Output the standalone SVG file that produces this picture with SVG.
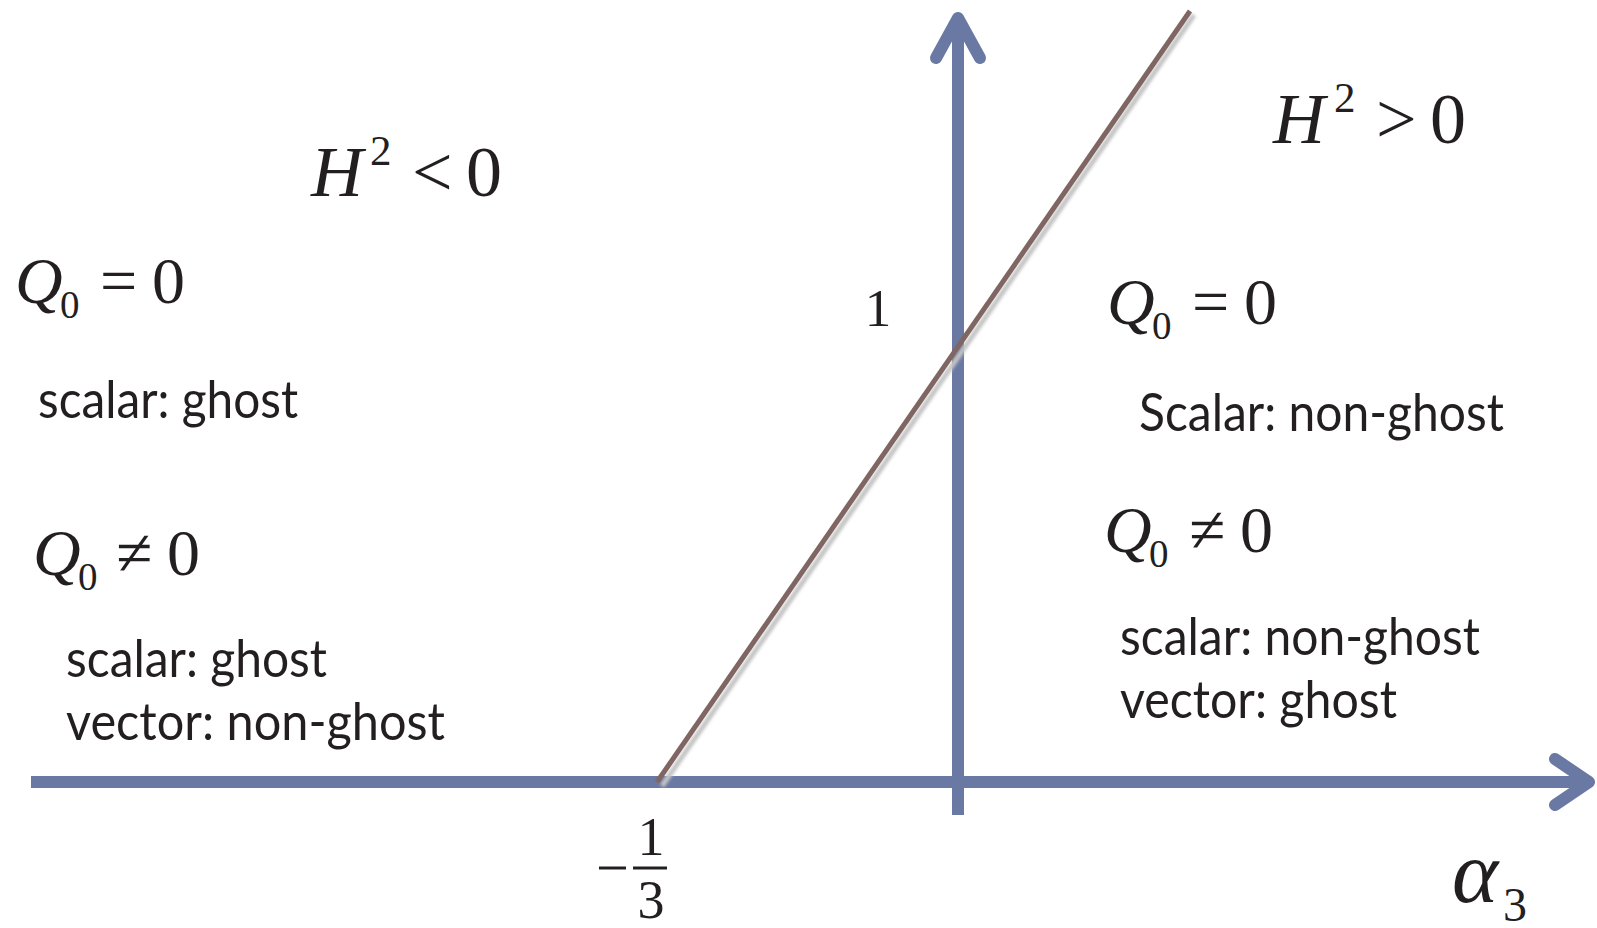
<svg xmlns="http://www.w3.org/2000/svg" width="1597" height="928" viewBox="0 0 1597 928">
<style>
.m{font-family:"Liberation Serif","Times New Roman",serif;fill:#231f20}
.i{font-style:italic}
.big{font-size:72px}
.q{font-size:66px}
.sub{font-size:39px}
.s{font-family:Lato,"Open Sans",sans-serif;fill:#231f20;font-size:52px}
.ax{stroke:#6a79a3;stroke-width:12;fill:none}
.ah{stroke:#6a79a3;stroke-width:12;fill:none;stroke-linecap:round;stroke-linejoin:round}
</style>
<defs>
<filter id="sh" x="-10%" y="-10%" width="120%" height="120%"><feGaussianBlur stdDeviation="1.5"/></filter>
</defs>
<rect width="1597" height="928" fill="#ffffff"/>
<g id="connectors">
<line x1="31" y1="782" x2="1588" y2="782" class="ax"/>
<polyline points="1555,759 1589,782 1555,805" class="ah"/>
<line x1="958" y1="815" x2="958" y2="20" class="ax"/>
<polyline points="936,58 958,18 980,58" class="ah"/>
<line x1="662" y1="786" x2="1194" y2="15" stroke="#c4c4c4" stroke-width="5" filter="url(#sh)"/>
<line x1="657" y1="782" x2="1190" y2="11" stroke="#7f6662" stroke-width="5"/>
</g>
<g id="label-H2-neg">
<text class="m i big" x="311" y="196">H</text>
<text class="m" x="370" y="165" font-size="43">2</text>
<text class="m big" x="412" y="196">&lt;</text>
<text class="m big" x="466" y="196">0</text>
</g>
<g id="label-H2-pos">
<text class="m i big" x="1273" y="143">H</text>
<text class="m" x="1334" y="112" font-size="43">2</text>
<text class="m big" x="1376" y="143">&gt;</text>
<text class="m big" x="1430" y="143">0</text>
</g>
<g id="left-Q0-eq">
<text class="m i q" x="15" y="303">Q</text>
<text class="m sub" x="60" y="318">0</text>
<text class="m q" x="100" y="303">=</text>
<text class="m q" x="152" y="303">0</text>
<text class="s" x="38" y="418" textLength="260" lengthAdjust="spacingAndGlyphs">scalar: ghost</text>
</g>
<g id="left-Q0-neq">
<text class="m i q" x="33" y="575">Q</text>
<text class="m sub" x="78" y="590">0</text>
<text class="m q" x="116" y="575">≠</text>
<text class="m q" x="167" y="575">0</text>
<text class="s" x="66" y="677" textLength="261" lengthAdjust="spacingAndGlyphs">scalar: ghost</text>
<text class="s" x="66" y="740" textLength="379" lengthAdjust="spacingAndGlyphs">vector: non-ghost</text>
</g>
<g id="right-Q0-eq">
<text class="m i q" x="1107" y="324">Q</text>
<text class="m sub" x="1152" y="339">0</text>
<text class="m q" x="1192" y="324">=</text>
<text class="m q" x="1244" y="324">0</text>
<text class="s" x="1139" y="431" textLength="365" lengthAdjust="spacingAndGlyphs">Scalar: non-ghost</text>
</g>
<g id="right-Q0-neq">
<text class="m i q" x="1104" y="552">Q</text>
<text class="m sub" x="1149" y="567">0</text>
<text class="m q" x="1189" y="552">≠</text>
<text class="m q" x="1240" y="552">0</text>
<text class="s" x="1120" y="655" textLength="360" lengthAdjust="spacingAndGlyphs">scalar: non-ghost</text>
<text class="s" x="1120" y="718" textLength="277" lengthAdjust="spacingAndGlyphs">vector: ghost</text>
</g>
<g id="tick-one">
<text class="m" x="878" y="326" font-size="53" text-anchor="middle">1</text>
</g>
<g id="tick-minus-third">
<line x1="599" y1="868" x2="626" y2="868" stroke="#231f20" stroke-width="3"/>
<line x1="633" y1="868" x2="667" y2="868" stroke="#231f20" stroke-width="3"/>
<text class="m" x="651" y="855" font-size="54" text-anchor="middle">1</text>
<text class="m" x="651" y="918" font-size="54" text-anchor="middle">3</text>
</g>
<g id="axis-label">
<text class="m i" x="1452" y="902" font-size="88">α</text>
<text class="m" x="1503" y="921" font-size="48">3</text>
</g>
</svg>
